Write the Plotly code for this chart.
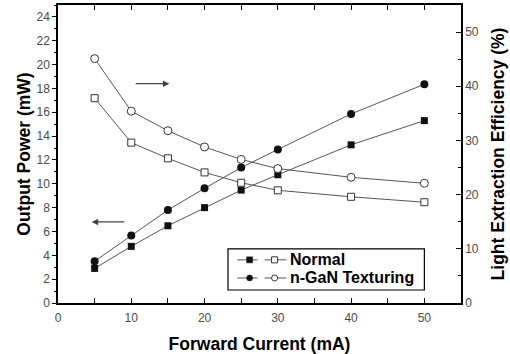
import plotly.graph_objects as go

current = [5, 10, 15, 20, 25, 30, 40, 50]
power_normal = [2.9, 4.75, 6.48, 8.0, 9.47, 10.76, 13.27, 15.3]
power_ngan = [3.5, 5.67, 7.8, 9.62, 11.36, 12.88, 15.86, 18.35]
eff_normal = [37.8, 29.6, 26.7, 24.1, 22.2, 20.8, 19.6, 18.6]
eff_ngan = [45.1, 35.4, 31.8, 28.8, 26.5, 24.8, 23.2, 22.1]

x_ticks = [0, 10, 20, 30, 40, 50]
legend_names = ["Normal", "n-GaN Texturing"]

LINE_C = "#555555"
MK_C = "#111111"
FONT = "Liberation Sans, Arial, sans-serif"

fig = go.Figure()

# Output power (left axis), filled markers
fig.add_trace(go.Scatter(x=current, y=power_normal, mode="lines+markers",
                         line=dict(color=LINE_C, width=1),
                         marker=dict(symbol="square", size=7, color=MK_C,
                                     line=dict(width=0)),
                         showlegend=False))
fig.add_trace(go.Scatter(x=current, y=power_ngan, mode="lines+markers",
                         line=dict(color=LINE_C, width=1),
                         marker=dict(symbol="circle", size=8, color=MK_C,
                                     line=dict(width=0)),
                         showlegend=False))
# Extraction efficiency (right axis), open markers
fig.add_trace(go.Scatter(x=current, y=eff_normal, mode="lines+markers", yaxis="y2",
                         line=dict(color=LINE_C, width=1),
                         marker=dict(symbol="square", size=7, color="white",
                                     line=dict(color="#333333", width=1)),
                         showlegend=False))
fig.add_trace(go.Scatter(x=current, y=eff_ngan, mode="lines+markers", yaxis="y2",
                         line=dict(color=LINE_C, width=1),
                         marker=dict(symbol="circle", size=8, color="white",
                                     line=dict(color="#333333", width=1)),
                         showlegend=False))

shapes = []
annotations = []

# Legend box (data coords of left axis)
lx0, lx1, ly0, ly1 = 23.2, 50.0, 1.09, 4.54
shapes.append(dict(type="rect", xref="x", yref="y", x0=lx0, x1=lx1, y0=ly0, y1=ly1,
                   line=dict(color="black", width=1.2), fillcolor="white", layer="above"))
rows_y = [3.62, 2.1]
for i, (ry, name) in enumerate(zip(rows_y, legend_names)):
    for (a, b) in [(24.47, 27.24), (28.2, 31.16)]:
        shapes.append(dict(type="line", xref="x", yref="y", x0=a, x1=b, y0=ry, y1=ry,
                           line=dict(color=LINE_C, width=1), layer="above"))
    kind = "rect" if i == 0 else "circle"
    shapes.append(dict(type=kind, xref="x", yref="y", xsizemode="pixel", ysizemode="pixel",
                       xanchor=26.15, yanchor=ry, x0=-3, x1=3, y0=-3, y1=3,
                       fillcolor=MK_C, line=dict(color=MK_C, width=0.5), layer="above"))
    shapes.append(dict(type=kind, xref="x", yref="y", xsizemode="pixel", ysizemode="pixel",
                       xanchor=29.56, yanchor=ry, x0=-3, x1=3, y0=-3, y1=3,
                       fillcolor="white", line=dict(color="#333333", width=1), layer="above"))
    annotations.append(dict(x=31.4, y=ry, xref="x", yref="y", text="<b>%s</b>" % name,
                            showarrow=False, xanchor="left", yanchor="middle",
                            font=dict(family=FONT, size=16, color="black")))

# Arrows
annotations.append(dict(x=4.6, y=6.8, ax=9.25, ay=6.8, xref="x", yref="y", axref="x", ayref="y",
                        text="", showarrow=True, arrowhead=2, arrowsize=1, arrowwidth=1.3,
                        arrowcolor="#444444"))
annotations.append(dict(x=15.2, y=18.4, ax=10.4, ay=18.4, xref="x", yref="y", axref="x", ayref="y",
                        text="", showarrow=True, arrowhead=2, arrowsize=1, arrowwidth=1.3,
                        arrowcolor="#444444"))

tickfont = dict(family=FONT, size=12, color="#4a4a4a")
titlefont = dict(family=FONT, size=17.5, color="black")

fig.update_layout(
    width=510, height=354,
    margin=dict(l=58, r=49, t=5, b=51, autoexpand=False),
    paper_bgcolor="white", plot_bgcolor="white",
    shapes=shapes, annotations=annotations,
    xaxis=dict(range=[0, 55], tickvals=x_ticks, ticks="inside", ticklen=5, tickwidth=1.2,
               tickcolor="black", showline=True, linecolor="black", linewidth=1.5,
               mirror="allticks", showgrid=False, zeroline=False, tickfont=tickfont,
               ticklabelstandoff=3,
               minor=dict(dtick=5, tick0=0, ticks="inside", ticklen=3, tickcolor="black"),
               title=dict(text="<b>Forward Current (mA)</b>", font=titlefont, standoff=14)),
    yaxis=dict(range=[0, 25], dtick=2, tick0=0, ticks="outside", ticklen=4, tickwidth=1.2,
               tickcolor="black", showline=True, linecolor="black", linewidth=1.5,
               showgrid=False, zeroline=False, tickfont=tickfont,
               minor=dict(dtick=1, tick0=0, ticks="outside", ticklen=2, tickcolor="black"),
               title=dict(text="<b>Output Power (mW)</b>", font=titlefont, standoff=1)),
    yaxis2=dict(range=[0, 55], dtick=10, tick0=0, overlaying="y", side="right",
                ticks="inside", ticklen=5, tickwidth=1.2, tickcolor="black",
                showline=True, linecolor="black", linewidth=1.5,
                showgrid=False, zeroline=False, tickfont=tickfont,
                minor=dict(dtick=5, tick0=0, ticks="inside", ticklen=3, tickcolor="black"),
                title=dict(text="<b>Light Extraction Efficiency (%)</b>", font=titlefont,
                           standoff=14)),
)

fig.write_html("out.html", config={"displayModeBar": False},
               post_script="document.body.style.margin='0px';document.body.style.overflow='hidden';")
